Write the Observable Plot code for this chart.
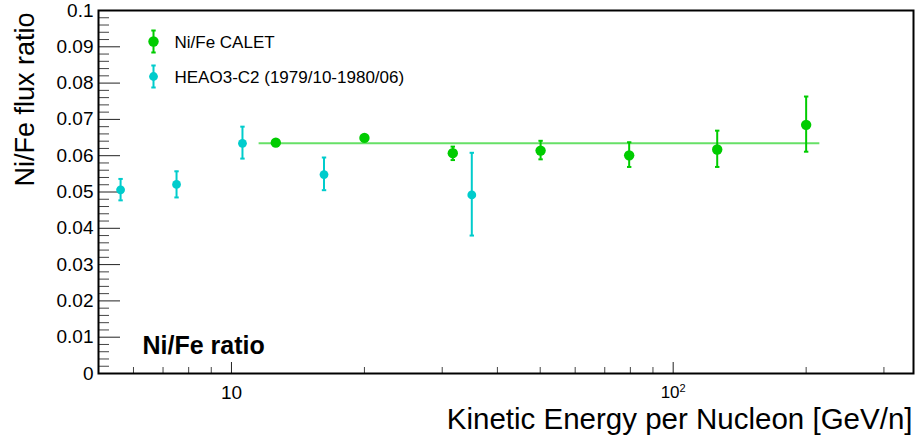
<!DOCTYPE html>
<html>
<head>
<meta charset="utf-8">
<script src="https://cdn.jsdelivr.net/npm/d3@7"></script>
<script src="https://cdn.jsdelivr.net/npm/@observablehq/plot@0.6"></script>
<style>
  html, body { margin: 0; padding: 0; background: #fff; }
  #chart svg { display: block; font-family: "Liberation Sans", Arial, Helvetica, sans-serif; }
</style>
</head>
<body>
<div id="chart"></div>
<script>
// ---- data ----
const caletE  = [12.6, 20.0, 31.7, 50.1, 79.5, 125.8, 200];
const caletR  = [0.0636, 0.0649, 0.0607, 0.0614, 0.0601, 0.0617, 0.0685];
const caletHi = [0.0641, 0.0655, 0.0625, 0.0641, 0.0637, 0.0669, 0.0763];
const caletLo = [0.0631, 0.0643, 0.0588, 0.0590, 0.0569, 0.0569, 0.0611];

const heaoE  = [5.61, 7.51, 10.59, 16.2, 35.0];
const heaoR  = [0.0506, 0.0521, 0.0634, 0.0548, 0.0492];
const heaoHi = [0.0536, 0.0557, 0.0680, 0.0595, 0.0608];
const heaoLo = [0.0477, 0.0485, 0.0592, 0.0505, 0.0380];

const fitValue = [0.0634];
const fitRange = [11.55, 214.8];

const yMajor = [0, 0.01, 0.02, 0.03, 0.04, 0.05, 0.06, 0.07, 0.08, 0.09, 0.1];
const yMinor = d3.range(0, 101, 2).map(d => d / 1000).filter(d => !yMajor.some(m => Math.abs(m - d) < 1e-9));
const xMajor = [10, 100];
const xMajorLabels = ["10", "10\u00B2"];
const xMinor = [6, 7, 8, 9, 20, 30, 40, 50, 60, 70, 80, 90, 200, 300];

const seriesNames = ["Ni/Fe CALET", "HEAO3-C2 (1979/10-1980/06)"];
const seriesColors = ["#00cc00", "#00cccc"];
const titleText = "Ni/Fe ratio";
const xLabel = "Kinetic Energy per Nucleon [GeV/n]";
const yLabel = "Ni/Fe flux ratio";

// ---- build tables ----
const calet = caletE.map((e, i) => ({e, r: caletR[i], hi: caletHi[i], lo: caletLo[i]}));
const heao = heaoE.map((e, i) => ({e, r: heaoR[i], hi: heaoHi[i], lo: heaoLo[i]}));

const W = 917, H = 444;
const mL = 98, mR = 4, mT = 10, mB = 71;
const plotW = W - mL - mR, plotH = H - mT - mB;

const capSymbol = {draw(ctx) { ctx.moveTo(-2.2, 0); ctx.lineTo(2.2, 0); }};
const legendBar = {draw(ctx) {
  const h = 11;
  ctx.moveTo(0, -h); ctx.lineTo(0, h);
  ctx.moveTo(-2.2, -h); ctx.lineTo(2.2, -h);
  ctx.moveTo(-2.2, h); ctx.lineTo(2.2, h);
}};

function errMarks(data, color, r) {
  return [
    Plot.ruleX(data, {x: "e", y1: "lo", y2: "hi", stroke: color, strokeWidth: 2}),
    Plot.dot(data, {x: "e", y: "hi", symbol: capSymbol, stroke: color, strokeWidth: 2, fill: "none"}),
    Plot.dot(data, {x: "e", y: "lo", symbol: capSymbol, stroke: color, strokeWidth: 2, fill: "none"}),
    Plot.dot(data, {x: "e", y: "r", r, fill: color, stroke: "none"})
  ];
}

const chart = Plot.plot({
  width: W, height: H,
  marginLeft: mL, marginRight: mR, marginTop: mT, marginBottom: mB,
  style: {fontFamily: '"Liberation Sans", Arial, Helvetica, sans-serif', background: "#fff", color: "#000"},
  x: {type: "log", domain: [5, 350]},
  y: {type: "linear", domain: [0, 0.1]},
  marks: [
    // inward ticks
    Plot.ruleY(yMajor, {stroke: "#222", strokeWidth: 1, insetRight: plotW - 22}),
    Plot.ruleY(yMinor, {stroke: "#444", strokeWidth: 1, insetRight: plotW - 11}),
    Plot.ruleX(xMajor, {stroke: "#222", strokeWidth: 1, insetTop: plotH - 11}),
    Plot.ruleX(xMinor, {stroke: "#444", strokeWidth: 1, insetTop: plotH - 6}),
    Plot.axisY({ticks: yMajor, tickSize: 0, tickPadding: 5, fontSize: 19, label: null,
                tickFormat: d => d3.format("~g")(d)}),
    Plot.axisX({ticks: xMajor, tickSize: 0, tickPadding: 12, fontSize: 19, label: null,
                tickFormat: d => xMajorLabels[xMajor.indexOf(d)]}),
    // fit line
    Plot.ruleY(fitValue, {x1: fitRange[0], x2: fitRange[1], stroke: "#00cc00", strokeOpacity: 0.6, strokeWidth: 2}),
    ...errMarks(heao, seriesColors[1], 4.4),
    ...errMarks(calet, seriesColors[0], 5.2),
    Plot.frame({stroke: "#000", strokeWidth: 2}),
    // legend
    Plot.dot([0], {frameAnchor: "top-left", dx: 55, dy: 31, symbol: legendBar, stroke: seriesColors[0], strokeWidth: 2, fill: "none"}),
    Plot.dot([0], {frameAnchor: "top-left", dx: 55, dy: 31, r: 5.2, fill: seriesColors[0]}),
    Plot.dot([0], {frameAnchor: "top-left", dx: 55, dy: 66, symbol: legendBar, stroke: seriesColors[1], strokeWidth: 2, fill: "none"}),
    Plot.dot([0], {frameAnchor: "top-left", dx: 55, dy: 66, r: 4.4, fill: seriesColors[1]}),
    Plot.text([seriesNames[0]], {text: d => d, frameAnchor: "top-left", dx: 76, dy: 32, textAnchor: "start", lineAnchor: "middle", fontSize: 17, fill: "#000"}),
    Plot.text([seriesNames[1]], {text: d => d, frameAnchor: "top-left", dx: 76, dy: 67, textAnchor: "start", lineAnchor: "middle", fontSize: 17, fill: "#000"}),
    // in-plot title
    Plot.text([titleText], {text: d => d, frameAnchor: "bottom-left", dx: 44, dy: -28, textAnchor: "start", lineAnchor: "middle", fontSize: 25, fontWeight: "bold", fill: "#000"}),
    // axis titles
    Plot.text([xLabel], {text: d => d, frameAnchor: "bottom-right", dx: -1, dy: 46, textAnchor: "end", lineAnchor: "middle", fontSize: 29.5, fill: "#000"}),
    Plot.text([yLabel], {text: d => d, frameAnchor: "top-left", dx: -73, dy: 2, rotate: -90, textAnchor: "end", lineAnchor: "middle", fontSize: 27, fill: "#000"})
  ]
});

// render the 10^2 tick label with a raised, smaller exponent (as in the reference)
d3.select(chart).selectAll("text").each(function() {
  if (this.textContent === "10\u00B2") {
    const t = d3.select(this);
    t.text("10").attr("font-size", 17);
    t.append("tspan").attr("dy", "-0.55em").attr("font-size", 11).text("2");
  }
});

document.getElementById("chart").appendChild(chart);
</script>
</body>
</html>
